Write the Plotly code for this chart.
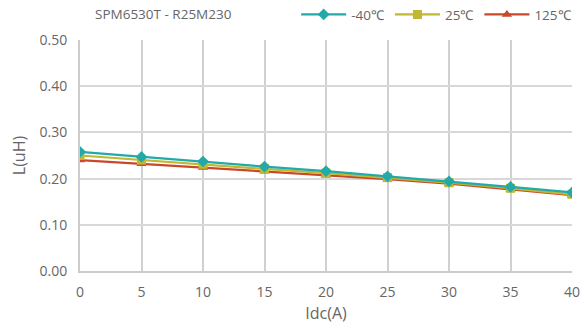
import plotly.graph_objects as go

idc = [0, 5, 10, 15, 20, 25, 30, 35, 40]
l_m40 = [0.258, 0.247, 0.237, 0.226, 0.216, 0.205, 0.194, 0.182, 0.170]
l_25 = [0.250, 0.240, 0.231, 0.221, 0.212, 0.202, 0.191, 0.179, 0.166]
l_125 = [0.240, 0.232, 0.224, 0.216, 0.207, 0.199, 0.189, 0.177, 0.164]
series_names = ["-40℃", "25℃", "125℃"]
colors = ["#22a9a9", "#c0b830", "#c8482c"]
symbols = ["diamond", "square", "triangle-up"]

fig = go.Figure()
for name, ys, c, s in zip(series_names, [l_m40, l_25, l_125], colors, symbols):
    fig.add_trace(go.Scatter(x=idc, y=ys, name=name, mode="lines+markers",
                             line=dict(color=c, width=2.2),
                             marker=dict(symbol=s, size=9, color=c)))

# draw in reverse so -40 is on top
fig.data = tuple(reversed(fig.data))

font = dict(family="Open Sans, sans-serif", size=13, color="#666666")
tickfont = dict(size=14, color="#666666")
fig.update_layout(
    width=583, height=326,
    margin=dict(l=80, r=11, t=40, b=55, autoexpand=False),
    paper_bgcolor="white", plot_bgcolor="white",
    font=font,
    title=dict(text="SPM6530T - R25M230", x=0.163, xanchor="left", y=0.955, yanchor="middle",
               font=dict(size=13.5, color="#666666")),
    legend=dict(orientation="h", x=0.99, xanchor="right", xref="container",
                y=0.955, yanchor="middle", yref="container",
                traceorder="reversed", font=dict(size=13.5, color="#666666"),
                itemwidth=45),
    xaxis=dict(range=[0, 40], tickvals=idc, showgrid=True, gridcolor="#d0d0d0", gridwidth=1.5,
               showline=True, linecolor="#cccccc", linewidth=2, zeroline=False, automargin=False,
               tickfont=tickfont, ticklabelstandoff=7,
               title=dict(text="Idc(A)", standoff=8), ticks=""),
    yaxis=dict(range=[0, 0.5], dtick=0.1, tickformat=".2f", showgrid=True, gridcolor="#d8d8d8",
               gridwidth=1.5, showline=True, linecolor="#cccccc", linewidth=2, zeroline=False,
               automargin=False, tickfont=tickfont, ticklabelstandoff=8,
               title=dict(text="L(uH)", standoff=10), ticks=""),
    showlegend=True,
)
fig.write_html("out.html", post_script="document.body.style.margin='0px';",
               config={"displayModeBar": False})
